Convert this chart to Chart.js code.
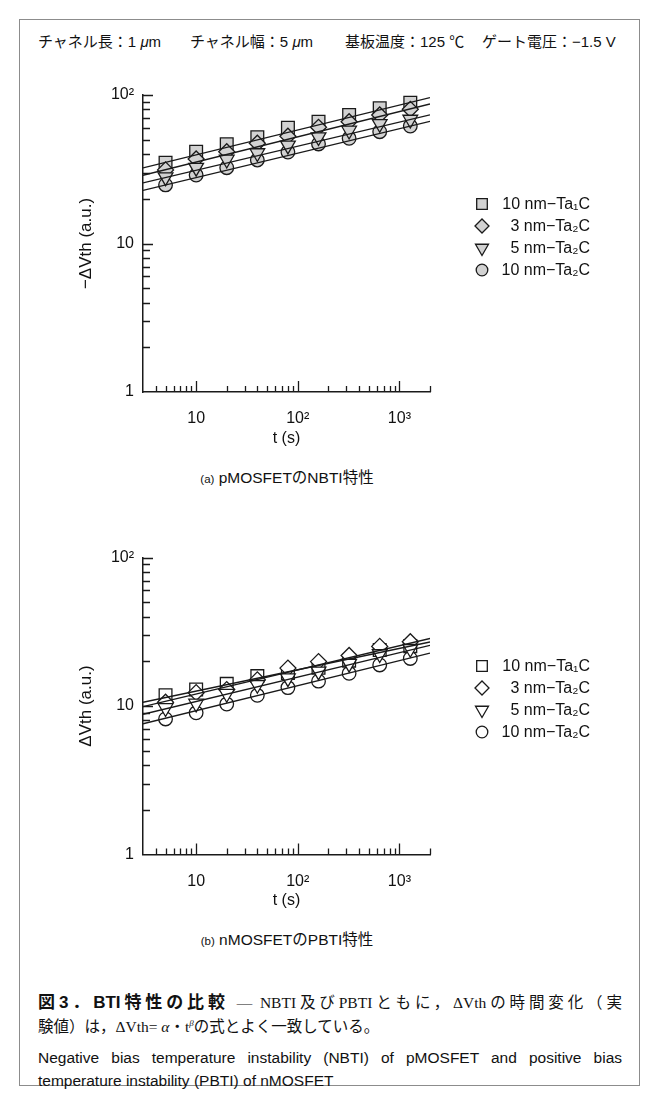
<!DOCTYPE html>
<html><head><meta charset="utf-8">
<script src="https://cdn.jsdelivr.net/npm/chart.js@4.4.0/dist/chart.umd.min.js"></script>
<style>
html,body{margin:0;padding:0;background:#fff;}
body{width:659px;height:1104px;position:relative;overflow:hidden;font-family:"Liberation Sans","Noto Sans CJK JP",sans-serif;color:#111;}
#frame{position:absolute;left:19px;top:19px;width:621px;height:1067px;border:1.5px solid #8c8c8c;box-sizing:border-box;}
.hdr{position:absolute;top:32px;font-size:15px;line-height:19px;white-space:nowrap;}
.hdr i{font-style:italic;}
canvas{position:absolute;left:0;}
#ca{top:60px}
#cb{top:520px}
.sub{position:absolute;left:0;width:574px;text-align:center;font-size:15.5px;line-height:18px;white-space:nowrap;}
.sub small{font-size:11.5px;}
.cap{position:absolute;left:38px;width:584px;white-space:nowrap;}
.just{white-space:normal;text-align:justify;text-align-last:justify;}
.jp{font-size:15.5px;line-height:20px;font-family:"Liberation Serif","Noto Sans CJK JP",serif;}
.jp b{font-family:"Liberation Sans","Noto Sans CJK JP",sans-serif;font-weight:bold;font-size:17px;}
.en{font-size:15.5px;line-height:19px;font-family:"Liberation Sans",sans-serif;}
</style></head>
<body>
<div id="frame"></div>
<div class="hdr" style="left:38px">チャネル長：1 <i>μ</i>m</div>
<div class="hdr" style="left:190px">チャネル幅：5 <i>μ</i>m</div>
<div class="hdr" style="left:345px">基板温度：125 ℃</div>
<div class="hdr" style="left:482px">ゲート電圧：−1.5 V</div>
<canvas id="ca" width="659" height="400"></canvas>
<canvas id="cb" width="659" height="400"></canvas>
<div class="sub" style="top:469px"><small>(a)</small> pMOSFETのNBTI特性</div>
<div class="sub" style="top:931px"><small>(b)</small> nMOSFETのPBTI特性</div>
<div class="cap jp just" style="top:993px"><b>図3．BTI特性の比較</b> ― NBTI及びPBTIともに，ΔVthの時間変化（実</div>
<div class="cap jp" style="top:1017px">験値）は，ΔVth= <i>α</i>・t<sup style="font-size:9px;vertical-align:6px;line-height:0"><i>β</i></sup>の式とよく一致している。</div>
<div class="cap en just" style="top:1048px">Negative bias temperature instability (NBTI) of pMOSFET and positive bias</div>
<div class="cap en" style="top:1071px">temperature instability (PBTI) of nMOSFET</div>
<script>
// ---- data ----
const times = [5, 10, 20, 40, 80, 160, 320, 640, 1280];
const fitTimes = [3, 2000];
const seriesLabels = ['10 nm−Ta₁C', '3 nm−Ta₂C', '5 nm−Ta₂C', '10 nm−Ta₂C'];
const xTickVals = [10, 100, 1000];
const xTickText = ['10', '10²', '10³'];
const yTickVals = [1, 10, 100];
const yTickText = ['1', '10', '10²'];

// (a) pMOSFET NBTI, -ΔVth (a.u.)
const nbti10Ta1C = [35.0, 41.5, 46.6, 51.9, 60.1, 66.1, 73.3, 81.4, 88.7];
const nbti3Ta2C  = [31.3, 37.1, 41.5, 47.3, 52.8, 60.6, 66.1, 73.3, 80.1];
const nbti5Ta2C  = [28.0, 32.4, 36.8, 40.7, 45.8, 52.1, 57.7, 64.0, 68.4];
const nbti10Ta2C = [24.8, 28.9, 32.4, 36.5, 41.3, 46.8, 51.1, 56.6, 61.8];
const nbtiFit10Ta1C = [32.3, 96.0];
const nbtiFit3Ta2C  = [28.8, 87.0];
const nbtiFit5Ta2C  = [25.6, 73.5];
const nbtiFit10Ta2C = [22.8, 66.5];

// (b) nMOSFET PBTI, ΔVth (a.u.)
const pbti10Ta1C = [11.8, 12.9, 14.1, 15.9, 16.7, 18.1, 20.2, 23.8, 25.3];
const pbti3Ta2C  = [10.6, 12.3, 12.9, 15.0, 18.0, 19.9, 21.9, 25.2, 27.1];
const pbti5Ta2C  = [9.7, 10.4, 12.1, 13.9, 15.4, 17.1, 19.3, 22.4, 24.3];
const pbti10Ta2C = [8.18, 9.0, 10.3, 11.8, 13.3, 14.7, 16.6, 18.9, 20.9];
const pbtiFit10Ta1C = [10.6, 27.0];
const pbtiFit3Ta2C  = [9.9, 28.5];
const pbtiFit5Ta2C  = [8.8, 25.6];
const pbtiFit10Ta2C = [7.6, 22.7];

// ---- styles ----
const markerDefs = [
  {style: 'rect', radius: 9, rot: 0, lr: 7.5, order: 4},
  {style: 'rectRot', radius: 8, rot: 0, lr: 7, order: 3},
  {style: 'triangle', radius: 8.5, rot: 180, lr: 7.5, order: 1},
  {style: 'circle', radius: 6.8, rot: 0, lr: 5.8, order: 2}
];
const INK = '#1a1a1a';

function drawMarker(ctx, def, r, x, y) {
  if (window.Chart && Chart.helpers && Chart.helpers.drawPoint) {
    Chart.helpers.drawPoint(ctx, {pointStyle: def.style, radius: r, rotation: def.rot, borderWidth: 1.3}, x, y);
  }
}

const axisTicksPlugin = {
  id: 'axisTicks',
  afterDraw(chart) {
    const ctx = chart.ctx, a = chart.chartArea;
    const xs = chart.scales.x, ys = chart.scales.y;
    ctx.save();
    ctx.strokeStyle = INK; ctx.lineWidth = 1.3;
    ctx.beginPath();
    [1, 10].forEach(d => { for (let m = 1; m <= 9; m++) {
      const v = d * m; if (v === 1) continue;
      const y = Math.round(ys.getPixelForValue(v)) + 0.5;
      const len = m === 1 ? 10 : 7;
      ctx.moveTo(a.left, y); ctx.lineTo(a.left + len, y);
    }});
    { const y = Math.round(ys.getPixelForValue(100)) + 0.5; ctx.moveTo(a.left, y); ctx.lineTo(a.left + 10, y); }
    [1, 10, 100, 1000].forEach(d => { for (let m = 1; m <= 9; m++) {
      const v = d * m; if (v < 4 || v > 2000) continue;
      const x = Math.round(xs.getPixelForValue(v)) + 0.5;
      const len = m === 1 ? 11 : 6;
      ctx.moveTo(x, a.bottom); ctx.lineTo(x, a.bottom - len);
    }});
    ctx.stroke();
    // legend
    const lg = chart.options.plugins.markerLegend;
    ctx.font = '16px "Liberation Sans", sans-serif';
    ctx.textAlign = 'right'; ctx.textBaseline = 'middle';
    markerDefs.forEach((def, i) => {
      ctx.fillStyle = lg.fill; ctx.strokeStyle = INK; ctx.lineWidth = 1.3;
      drawMarker(ctx, def, def.lr, lg.x, lg.ys[i]);
      ctx.fillStyle = '#111';
      ctx.fillText(seriesLabels[i], lg.textRight, lg.ys[i] + 1);
    });
    ctx.restore();
  }
};

function makeChart(id, series, fits, fill, yTitle, padTop, padBottom, legendYs) {
  const datasets = [];
  series.forEach((vals, i) => {
    const def = markerDefs[i];
    datasets.push({
      label: seriesLabels[i],
      data: times.map((t, j) => ({x: t, y: vals[j]})),
      showLine: false,
      pointStyle: def.style, pointRadius: def.radius, pointRotation: def.rot,
      pointBackgroundColor: fill, pointBorderColor: INK, pointBorderWidth: 1.3,
      order: def.order
    });
  });
  fits.forEach((f, i) => {
    datasets.push({
      label: 'fit ' + seriesLabels[i],
      data: fitTimes.map((t, j) => ({x: t, y: f[j]})),
      showLine: true, pointRadius: 0, borderColor: INK, borderWidth: 1.4,
      order: 0
    });
  });
  return new Chart(document.getElementById(id), {
    type: 'scatter',
    data: {datasets},
    options: {
      responsive: false, animation: false, devicePixelRatio: 1,
      layout: {padding: {top: padTop, left: 76, right: 229, bottom: padBottom}},
      plugins: {legend: {display: false}, tooltip: {enabled: false},
        markerLegend: {x: 482, textRight: 590, ys: legendYs, fill}},
      scales: {
        x: {
          type: 'logarithmic', min: 3, max: 2000,
          afterBuildTicks: s => { s.ticks = xTickVals.map(v => ({value: v})); },
          afterFit: s => { s.height = 56; },
          ticks: {callback: (v) => xTickText[xTickVals.indexOf(v)], font: {size: 16, family: 'Liberation Sans'}, color: '#111', padding: 17, maxRotation: 0, autoSkip: false},
          grid: {display: true, drawOnChartArea: false, drawTicks: false},
          border: {display: true, color: INK, width: 1.5},
          title: {display: true, text: 't (s)', font: {size: 16, family: 'Liberation Sans'}, color: '#111', padding: 0}
        },
        y: {
          type: 'logarithmic', min: 1, max: 100,
          afterBuildTicks: s => { s.ticks = yTickVals.map(v => ({value: v})); },
          afterFit: s => { s.width = 67; },
          ticks: {callback: (v) => yTickText[yTickVals.indexOf(v)], font: {size: 16, family: 'Liberation Sans'}, color: '#111', padding: 9, autoSkip: false},
          grid: {display: true, drawOnChartArea: false, drawTicks: false},
          border: {display: true, color: INK, width: 1.5},
          title: {display: true, text: yTitle, font: {size: 17, family: 'Liberation Sans'}, color: '#111', padding: 0}
        }
      }
    },
    plugins: [axisTicksPlugin]
  });
}

makeChart('ca',
  [nbti10Ta1C, nbti3Ta2C, nbti5Ta2C, nbti10Ta2C],
  [nbtiFit10Ta1C, nbtiFit3Ta2C, nbtiFit5Ta2C, nbtiFit10Ta2C],
  '#d2d2d2', '−ΔVth (a.u.)', 35, 12, [144, 166, 188, 210]);
makeChart('cb',
  [pbti10Ta1C, pbti3Ta2C, pbti5Ta2C, pbti10Ta2C],
  [pbtiFit10Ta1C, pbtiFit3Ta2C, pbtiFit5Ta2C, pbtiFit10Ta2C],
  '#ffffff', 'ΔVth (a.u.)', 37.5, 9.5, [146, 168, 190, 212]);
</script>
</body></html>
